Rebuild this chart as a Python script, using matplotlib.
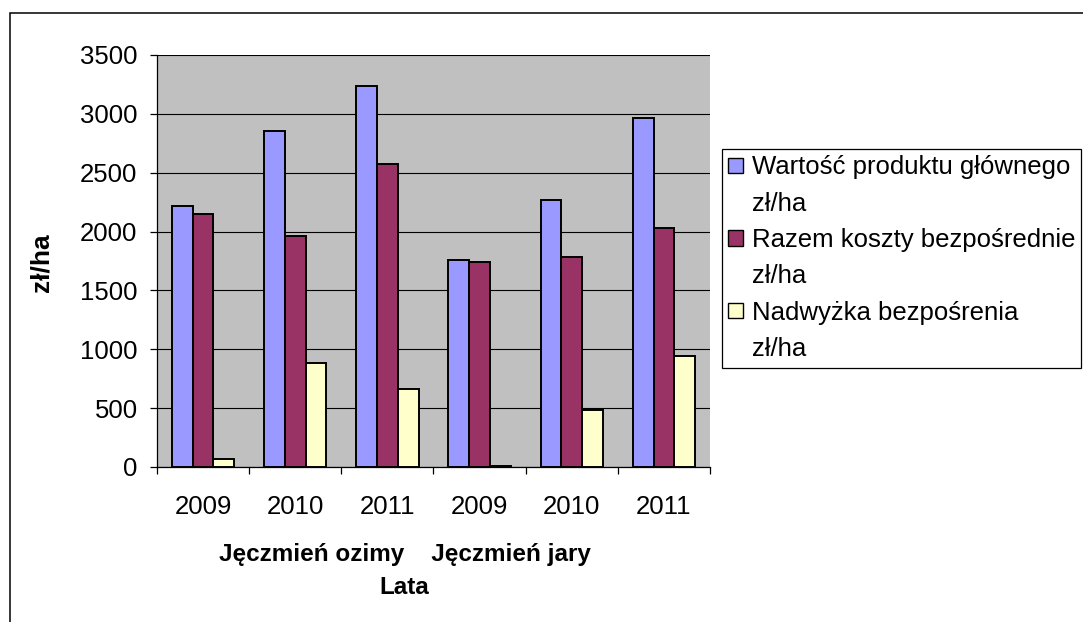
import matplotlib
matplotlib.use("Agg")
import matplotlib.pyplot as plt
import matplotlib.patches as mpatches
import numpy as np

plt.rcParams['font.family'] = ['Liberation Sans', 'DejaVu Sans']

years = ["2009", "2010", "2011", "2009", "2010", "2011"]
wartosc = [2220, 2855, 3240, 1762, 2272, 2968]
koszty = [2152, 1965, 2577, 1745, 1780, 2034]
nadwyzka = [65, 881, 660, 12, 485, 946]

series_names = ["Wartość produktu głównego", "Razem koszty bezpośrednie",
                "Nadwyżka bezpośrenia"]
colors = ["#9999FF", "#993366", "#FFFFCC"]

W, H = 1083, 622
fig = plt.figure(figsize=(W / 100, H / 100), dpi=100)
ax = fig.add_axes([157 / W, 1 - 467 / H, (710 - 157) / W, (467 - 55) / H])

# outer chart border (runs off the right / bottom edge)
fig.patches.append(mpatches.Rectangle((10 / W, -0.1), 1.2, 1 - 13 / H + 0.1,
                                      transform=fig.transFigure, fill=False,
                                      edgecolor="black", lw=1.1))

x = np.arange(len(years))
w = 0.225
for k, vals in enumerate([wartosc, koszty, nadwyzka]):
    ax.bar(x + (k - 1) * w, vals, w, color=colors[k], edgecolor="black",
           lw=1.4, zorder=3)

ax.set_facecolor("#C0C0C0")
ax.set_xlim(-0.5, 5.5)
ax.set_ylim(0, 3500)
ax.set_yticks(np.arange(0, 3501, 500))
ax.grid(axis="y", color="black", lw=0.8)
ax.set_axisbelow(True)
for s in ["top", "right"]:
    ax.spines[s].set_visible(False)
for s in ["left", "bottom"]:
    ax.spines[s].set_linewidth(0.9)

ax.set_xticks(x)
ax.set_xticklabels(years)
ax.set_xticks(np.arange(-0.5, 6, 1), minor=True)
ax.tick_params(axis="x", which="major", length=0, pad=20, labelsize=18.5)
ax.tick_params(axis="x", which="minor", length=5, width=0.9)
ax.tick_params(axis="y", length=5, width=0.9, pad=9, labelsize=18.5)

ax.set_ylabel("zł/ha", fontsize=19, fontweight="bold")
ax.yaxis.set_label_coords(-0.188, 0.495)

ax.text(0.448, -0.252, "Jęczmień ozimy    Jęczmień jary\nLata",
        transform=ax.transAxes, ha="center", va="center", fontsize=17.5,
        fontweight="bold", linespacing=1.55)

# legend: each label broken over two lines, the marker on the first one
handles, labels = [], []
empty = mpatches.Patch(facecolor="none", edgecolor="none")
for name, c in zip(series_names, colors):
    handles += [mpatches.Patch(facecolor=c, edgecolor="black", lw=1), empty]
    labels += [name, "zł/ha"]
leg = fig.legend(handles, labels, loc="upper left",
                 bbox_to_anchor=(722 / W, 1 - 149 / H), borderaxespad=0,
                 fontsize=18.5, handlelength=0.55, handleheight=0.55,
                 handletextpad=0.35, labelspacing=0.48, borderpad=0.25,
                 fancybox=False, framealpha=1, edgecolor="black")
leg.get_frame().set_linewidth(0.9)

fig.savefig("out.png", dpi=100)
